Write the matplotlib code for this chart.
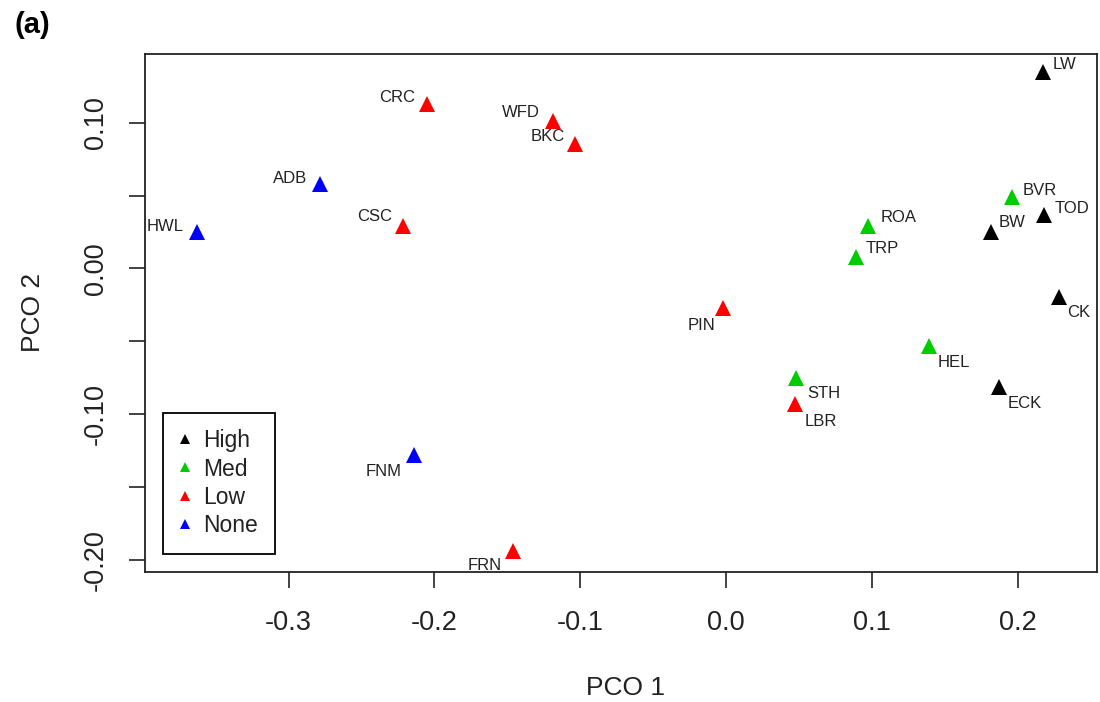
import matplotlib
matplotlib.use("Agg")
import matplotlib.pyplot as plt
from matplotlib.lines import Line2D
from matplotlib.transforms import offset_copy

plt.rcParams['font.family'] = ['Liberation Sans', 'DejaVu Sans']

# ---- data ----
sites = ["LW", "CRC", "WFD", "BKC", "ADB", "HWL", "CSC", "ROA", "TRP", "BVR",
         "TOD", "BW", "CK", "PIN", "HEL", "STH", "LBR", "ECK", "FNM", "FRN"]
pco1 = [0.2178, -0.2053, -0.1185, -0.1034, -0.2785, -0.3630, -0.2215, 0.0976, 0.0889, 0.1962,
        0.2181, 0.1815, 0.2285, -0.0018, 0.1392, 0.0480, 0.0473, 0.1872, -0.2140, -0.1459]
pco2 = [0.1346, 0.1128, 0.1015, 0.0853, 0.0578, 0.0249, 0.0292, 0.0294, 0.0081, 0.0493,
        0.0367, 0.0252, -0.0195, -0.0273, -0.0532, -0.0750, -0.0930, -0.0812, -0.1281, -0.1938]
group = ["High", "Low", "Low", "Low", "None", "None", "Low", "Med", "Med", "Med",
         "High", "High", "High", "Low", "Med", "Med", "Low", "High", "None", "Low"]

groups = ["High", "Med", "Low", "None"]
xticks = [-0.3, -0.2, -0.1, 0.0, 0.1, 0.2]
yticks_major = [-0.20, -0.10, 0.00, 0.10]
yticks_minor = [-0.15, -0.05, 0.05]

# ---- style ----
colors = {"High": "#000000", "Med": "#00CD00", "Low": "#FF0000", "None": "#0000FF"}
# label placement (pixels): (dx, dy downward)
offs = {"LW": (9, -8), "CRC": (-12, -7), "WFD": (-13, -8), "BKC": (-10, -8),
        "ADB": (-13, -6), "HWL": (-13, -6), "CSC": (-11, -9), "ROA": (12, -8),
        "TRP": (10, -8), "BVR": (11, -6), "TOD": (11, -7), "BW": (8, -9),
        "CK": (8, 16), "PIN": (-8, 17), "HEL": (9, 17), "STH": (11, 16),
        "LBR": (10, 18), "ECK": (9, 17), "FNM": (-12, 17), "FRN": (-12, 15)}

fig = plt.figure(figsize=(11, 7.02), dpi=100)
ax = fig.add_axes([145/1100, 1 - 572.3/702, (1097-145)/1100, (572.3-54.3)/702])

for g in groups:
    xs = [x for x, gg in zip(pco1, group) if gg == g]
    ys = [y for y, gg in zip(pco2, group) if gg == g]
    ax.plot(xs, ys, linestyle='none', marker='^', markersize=11,
            color=colors[g], markeredgewidth=0, zorder=3)

for s, x, y in zip(sites, pco1, pco2):
    dx, dy = offs[s]
    tr = offset_copy(ax.transData, fig=fig, x=dx, y=-dy, units='dots')
    ax.text(x, y, s, transform=tr, ha='left' if dx > 0 else 'right', va='center',
            fontsize=12, color='#222222', clip_on=True)

ax.set_xlim(-0.3985, 0.2545)
ax.set_ylim(-0.2087, 0.1471)

ax.set_xticks(xticks)
ax.set_xticklabels([f"{t:.1f}" for t in xticks])
ax.set_yticks(yticks_major)
ax.set_yticklabels([f"{t:.2f}" for t in yticks_major], rotation=90, va='center')
ax.set_yticks(yticks_minor, minor=True)

ax.tick_params(axis='both', which='both', direction='out', length=11.5, width=1.2,
               color='#222222', labelsize=19.5, labelcolor='#222222')
ax.tick_params(axis='x', pad=16)
ax.tick_params(axis='y', pad=14.5)

for sp in ax.spines.values():
    sp.set_linewidth(1.3)
    sp.set_color('#222222')

fig.text(626/1100, 1 - 688/702, "PCO 1", ha='center', va='center', fontsize=19, color='#222222')
fig.text(33/1100, 1 - 312/702, "PCO 2", ha='center', va='center', fontsize=19,
         rotation=90, color='#222222')
fig.text(32/1100, 1 - 25/702, "(a)", ha='center', va='center', fontsize=21,
         fontweight='bold', color='#000000')

handles = [Line2D([], [], linestyle='none', marker='^', markersize=7,
                  color=colors[g], markeredgewidth=0) for g in groups]
leg = ax.legend(handles, groups, loc='lower left',
                bbox_to_anchor=((163-145)/952, (572.3-554)/518),
                borderaxespad=0, fontsize=16.5, frameon=True, fancybox=False,
                edgecolor='#000000', framealpha=1, handlelength=0.45,
                handletextpad=0.6, labelspacing=0.24, borderpad=0.72)
leg.get_frame().set_linewidth(1.3)
for t in leg.get_texts():
    t.set_color('#222222')

fig.savefig("out.png", dpi=100)
